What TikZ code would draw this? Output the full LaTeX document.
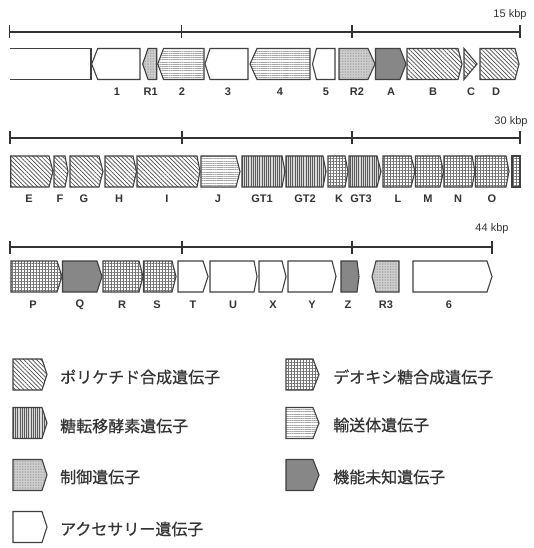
\documentclass[tikz,border=0pt]{standalone}
\usepackage{fontspec}
\setmainfont{Liberation Sans}
\newfontfamily\jp{Noto Sans CJK JP}[FakeBold=0.5]
\usetikzlibrary{patterns,patterns.meta}
\newcommand\gR[5]{\draw[#1] (#2,#5-15.5) -- (#3,#5-15.5) -- (#4,#5) -- (#3,#5+15.5) -- (#2,#5+15.5) -- cycle;}
\newcommand\gL[5]{\draw[#1] (#2,#5) -- (#3,#5-15.5) -- (#4,#5-15.5) -- (#4,#5+15.5) -- (#3,#5+15.5) -- cycle;}
\newcommand\sbar[5]{\draw[bar] (#2,#1) -- (#5,#1);
  \foreach \t in {#2,#3,#4,#5} \draw[bar] (\t,#1-6.5) -- (\t,#1+6.5);}
\begin{document}
\begin{tikzpicture}[x=1pt,y=-1pt,
  gene/.style={draw=black!75, line width=1.1pt, line join=miter},
  pks/.style={gene, pattern={Lines[angle=-45,distance=3pt,line width=0.7pt]}, pattern color=black!70},
  gt/.style={gene, preaction={fill=black!15}, pattern={Lines[angle=90,distance=2.2pt,line width=0.6pt]}, pattern color=black!65},
  reg/.style={gene, preaction={fill=black!18}, pattern={Dots[distance=1.6pt,radius=0.35pt]}, pattern color=black!50},
  acc/.style={gene, fill=white},
  deoxy/.style={gene, pattern={Hatch[angle=0,distance=3pt,line width=0.9pt]}, pattern color=black!55},
  trans/.style={gene, pattern={Lines[angle=0,distance=2.2pt,line width=0.5pt]}, pattern color=black!35},
  unk/.style={gene, fill=black!47},
  bar/.style={draw=black!80, line width=1.1pt},
  lab/.style={font=\bfseries\fontsize{11}{11}\selectfont, text=black!80, inner sep=0pt},
  kbp/.style={font=\fontsize{11}{11}\selectfont, text=black!80, inner sep=0pt},
  leg/.style={font=\jp\fontsize{16}{16}\selectfont, text=black!80, anchor=west, inner sep=0pt}]
\useasboundingbox (0,0) rectangle (533,548);

% ---------- row 1 ----------
\sbar{32}{9.5}{181.5}{352}{520}
\node[kbp] (k15) at (510,15) {15 kbp};
\draw[gene, fill=white] (9.5,48.5) -- (91,48.5) -- (91,79.5) -- (9.5,79.5);
\gL{acc}{91.7}{97.7}{140}{64}
\gL{reg}{142.7}{148}{156.7}{64}
\gL{trans}{157.7}{163.5}{204}{64}
\gL{acc}{205}{210}{248}{64}
\gL{trans}{250}{257}{310}{64}
\gL{acc}{312.5}{316.5}{335}{64}
\gR{reg}{339}{368}{375}{64}
\gR{unk}{375.5}{400}{406}{64}
\gR{pks}{407}{458}{462}{64}
\gR{pks}{464}{464}{477}{64}
\gR{pks}{480}{515}{519}{64}
\foreach \n/\x in {1/117, R1/150.7, 2/182, 3/228, 4/280, 5/326, R2/357, A/391, B/433, C/471, D/496}
  \node[lab] (l\n) at (\x,92) {\n};

% ---------- row 2 ----------
\sbar{138}{10}{182}{352}{520}
\node[kbp] (k30) at (511,122) {30 kbp};
\gR{pks}{10.7}{49}{53}{171.5}
\gR{pks}{54}{65}{68}{171.5}
\gR{pks}{70}{99}{103}{171.5}
\gR{pks}{105}{133}{136.5}{171.5}
\gR{pks}{137}{197}{200}{171.5}
\gR{trans}{201}{236}{240}{171.5}
\gR{gt}{242}{282}{285}{171.5}
\gR{gt}{286}{323}{326}{171.5}
\gR{deoxy}{328}{345}{348}{171.5}
\gR{gt}{349}{377}{381}{171.5}
\gR{deoxy}{383}{411}{415}{171.5}
\gR{deoxy}{415.5}{440}{443.5}{171.5}
\gR{deoxy}{444}{472}{475}{171.5}
\gR{deoxy}{475.5}{506}{509}{171.5}
\draw[deoxy] (512,156) rectangle (520,187);
\foreach \n/\x in {E/29, F/60, G/84, H/119, I/167, J/218, GT1/262, GT2/305, K/339, GT3/361, L/398, M/428, N/458, O/492}
  \node[lab] (l\n) at (\x,199) {\n};

% ---------- row 3 ----------
\sbar{247}{10}{182}{352}{492}
\node[kbp] (k44) at (492,229) {44 kbp};
\gR{deoxy}{11}{57}{62}{276.5}
\gR{unk}{62.5}{97}{102}{276.5}
\gR{deoxy}{103}{139}{143}{276.5}
\gR{deoxy}{143.5}{172}{176}{276.5}
\gR{acc}{178}{203}{208}{276.5}
\gR{acc}{210}{254}{257}{276.5}
\gR{acc}{259}{282}{286}{276.5}
\gR{acc}{288}{332}{336}{276.5}
\gR{unk}{341}{357}{359}{276.5}
\gL{reg}{372}{376}{399}{276.5}
\gR{acc}{413}{487}{492}{276.5}
\foreach \n/\x in {P/33, Q/80, R/122, S/157, T/193, U/233, X/273, Y/312, Z/348, R3/386, 6/449}
  \node[lab] (l\n) at (\x,305) {\n};

% ---------- legend ----------
\gR{pks}{13}{42}{47}{374.5}
\gR{gt}{13}{42}{47}{423}
\gR{reg}{13}{42}{47}{475}
\gR{acc}{13}{42}{47}{527}
\gR{deoxy}{286}{313}{319}{374.5}
\gR{trans}{286}{313}{319}{423}
\gR{unk}{286}{313}{319}{475}
\node[leg] (t1) at (60,377) {ポリケチド合成遺伝子};
\node[leg] (t2) at (60,426) {糖転移酵素遺伝子};
\node[leg] (t3) at (60,477) {制御遺伝子};
\node[leg] (t4) at (60,529) {アクセサリー遺伝子};
\node[leg] (t5) at (333,377) {デオキシ糖合成遺伝子};
\node[leg] (t6) at (333,425) {輸送体遺伝子};
\node[leg] (t7) at (333,477) {機能未知遺伝子};
\end{tikzpicture}
\end{document}
